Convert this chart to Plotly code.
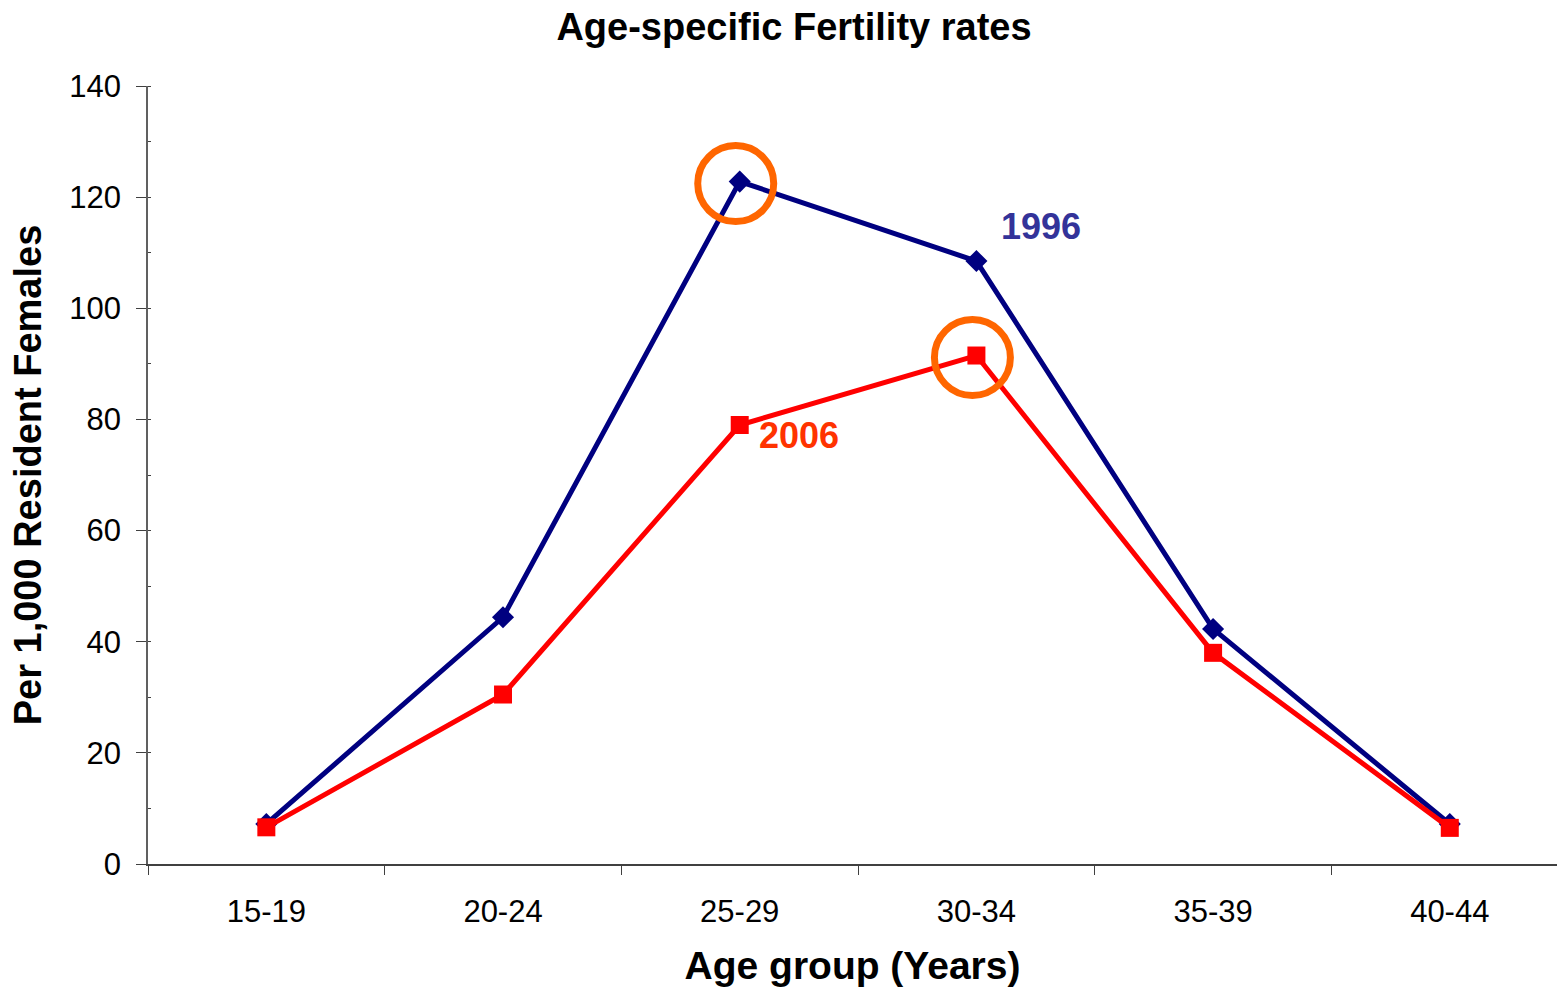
import plotly.graph_objects as go

# Age-specific fertility rates, per 1,000 resident females
age_groups = ["15-19", "20-24", "25-29", "30-34", "35-39", "40-44"]
rates_1996 = [7.2, 44.4, 122.8, 108.5, 42.3, 7.2]
rates_2006 = [6.6, 30.5, 79.0, 91.5, 38.0, 6.5]

FONT = "Liberation Sans, Arial, sans-serif"
NAVY = "#000080"
RED = "#FF0000"
ORANGE = "#FF6600"

fig = go.Figure()

fig.add_trace(
    go.Scatter(
        x=age_groups,
        y=rates_1996,
        mode="lines+markers",
        name="1996",
        line=dict(color=NAVY, width=5),
        marker=dict(symbol="diamond", size=17, color=NAVY),
    )
)
fig.add_trace(
    go.Scatter(
        x=age_groups,
        y=rates_2006,
        mode="lines+markers",
        name="2006",
        line=dict(color=RED, width=5),
        marker=dict(symbol="square", size=18, color=RED),
    )
)

# Orange rings around the peak of each series
for series in (rates_1996, rates_2006):
    peak = max(series)
    idx = series.index(peak)
    fig.add_shape(
        type="circle",
        xref="x",
        yref="y",
        xsizemode="pixel",
        ysizemode="pixel",
        xanchor=idx,
        yanchor=peak,
        x0=-42,
        x1=34,
        y0=-40,
        y1=36,
        line=dict(color=ORANGE, width=7),
    )

# Series labels next to the lines
fig.add_annotation(
    x=age_groups[3], y=rates_1996[3], xref="x", yref="y",
    text="<b>1996</b>", showarrow=False,
    xshift=65, yshift=35,
    font=dict(family=FONT, size=36, color="#333399"),
)
fig.add_annotation(
    x=age_groups[2], y=rates_2006[2], xref="x", yref="y",
    text="<b>2006</b>", showarrow=False,
    xshift=59, yshift=-11,
    font=dict(family=FONT, size=36, color="#FF3300"),
)

fig.update_layout(
    width=1557,
    height=987,
    margin=dict(l=148, r=0, t=86, b=123),
    paper_bgcolor="white",
    plot_bgcolor="white",
    showlegend=False,
    font=dict(family=FONT, color="black"),
    title=dict(
        text="<b>Age-specific Fertility rates</b>",
        x=794 / 1557,
        xref="container",
        xanchor="center",
        y=1 - 27 / 987,
        yanchor="middle",
        font=dict(family=FONT, size=38, color="black"),
    ),
)

fig.update_xaxes(
    type="category",
    range=[-0.5, 5.453],
    tickson="boundaries",
    ticks="outside",
    ticklen=9,
    tickcolor="#404040",
    showline=True,
    linecolor="#404040",
    linewidth=1.5,
    showgrid=False,
    zeroline=False,
    tickfont=dict(family=FONT, size=31, color="black"),
    ticklabelstandoff=19,
    title=dict(
        text="<b>Age group (Years)</b>",
        font=dict(family=FONT, size=39, color="black"),
        standoff=26,
    ),
)

fig.update_yaxes(
    range=[0, 140],
    tick0=0,
    dtick=20,
    ticks="outside",
    ticklen=10,
    tickcolor="#404040",
    showline=True,
    linecolor="#606060",
    linewidth=1.5,
    showgrid=False,
    zeroline=False,
    tickfont=dict(family=FONT, size=31, color="black"),
    ticklabelstandoff=9,
    minor=dict(ticks="inside", ticklen=3, dtick=10, tickcolor="#404040"),
    title=dict(
        text="<b>Per 1,000 Resident Females</b>",
        font=dict(family=FONT, size=38, color="black"),
        standoff=16,
    ),
)

# drop the default 8px body margin so the figure sits at the page corner
fig.write_html(
    "out.html",
    config={"displayModeBar": False},
    post_script="document.body.style.margin = '0px';",
)
